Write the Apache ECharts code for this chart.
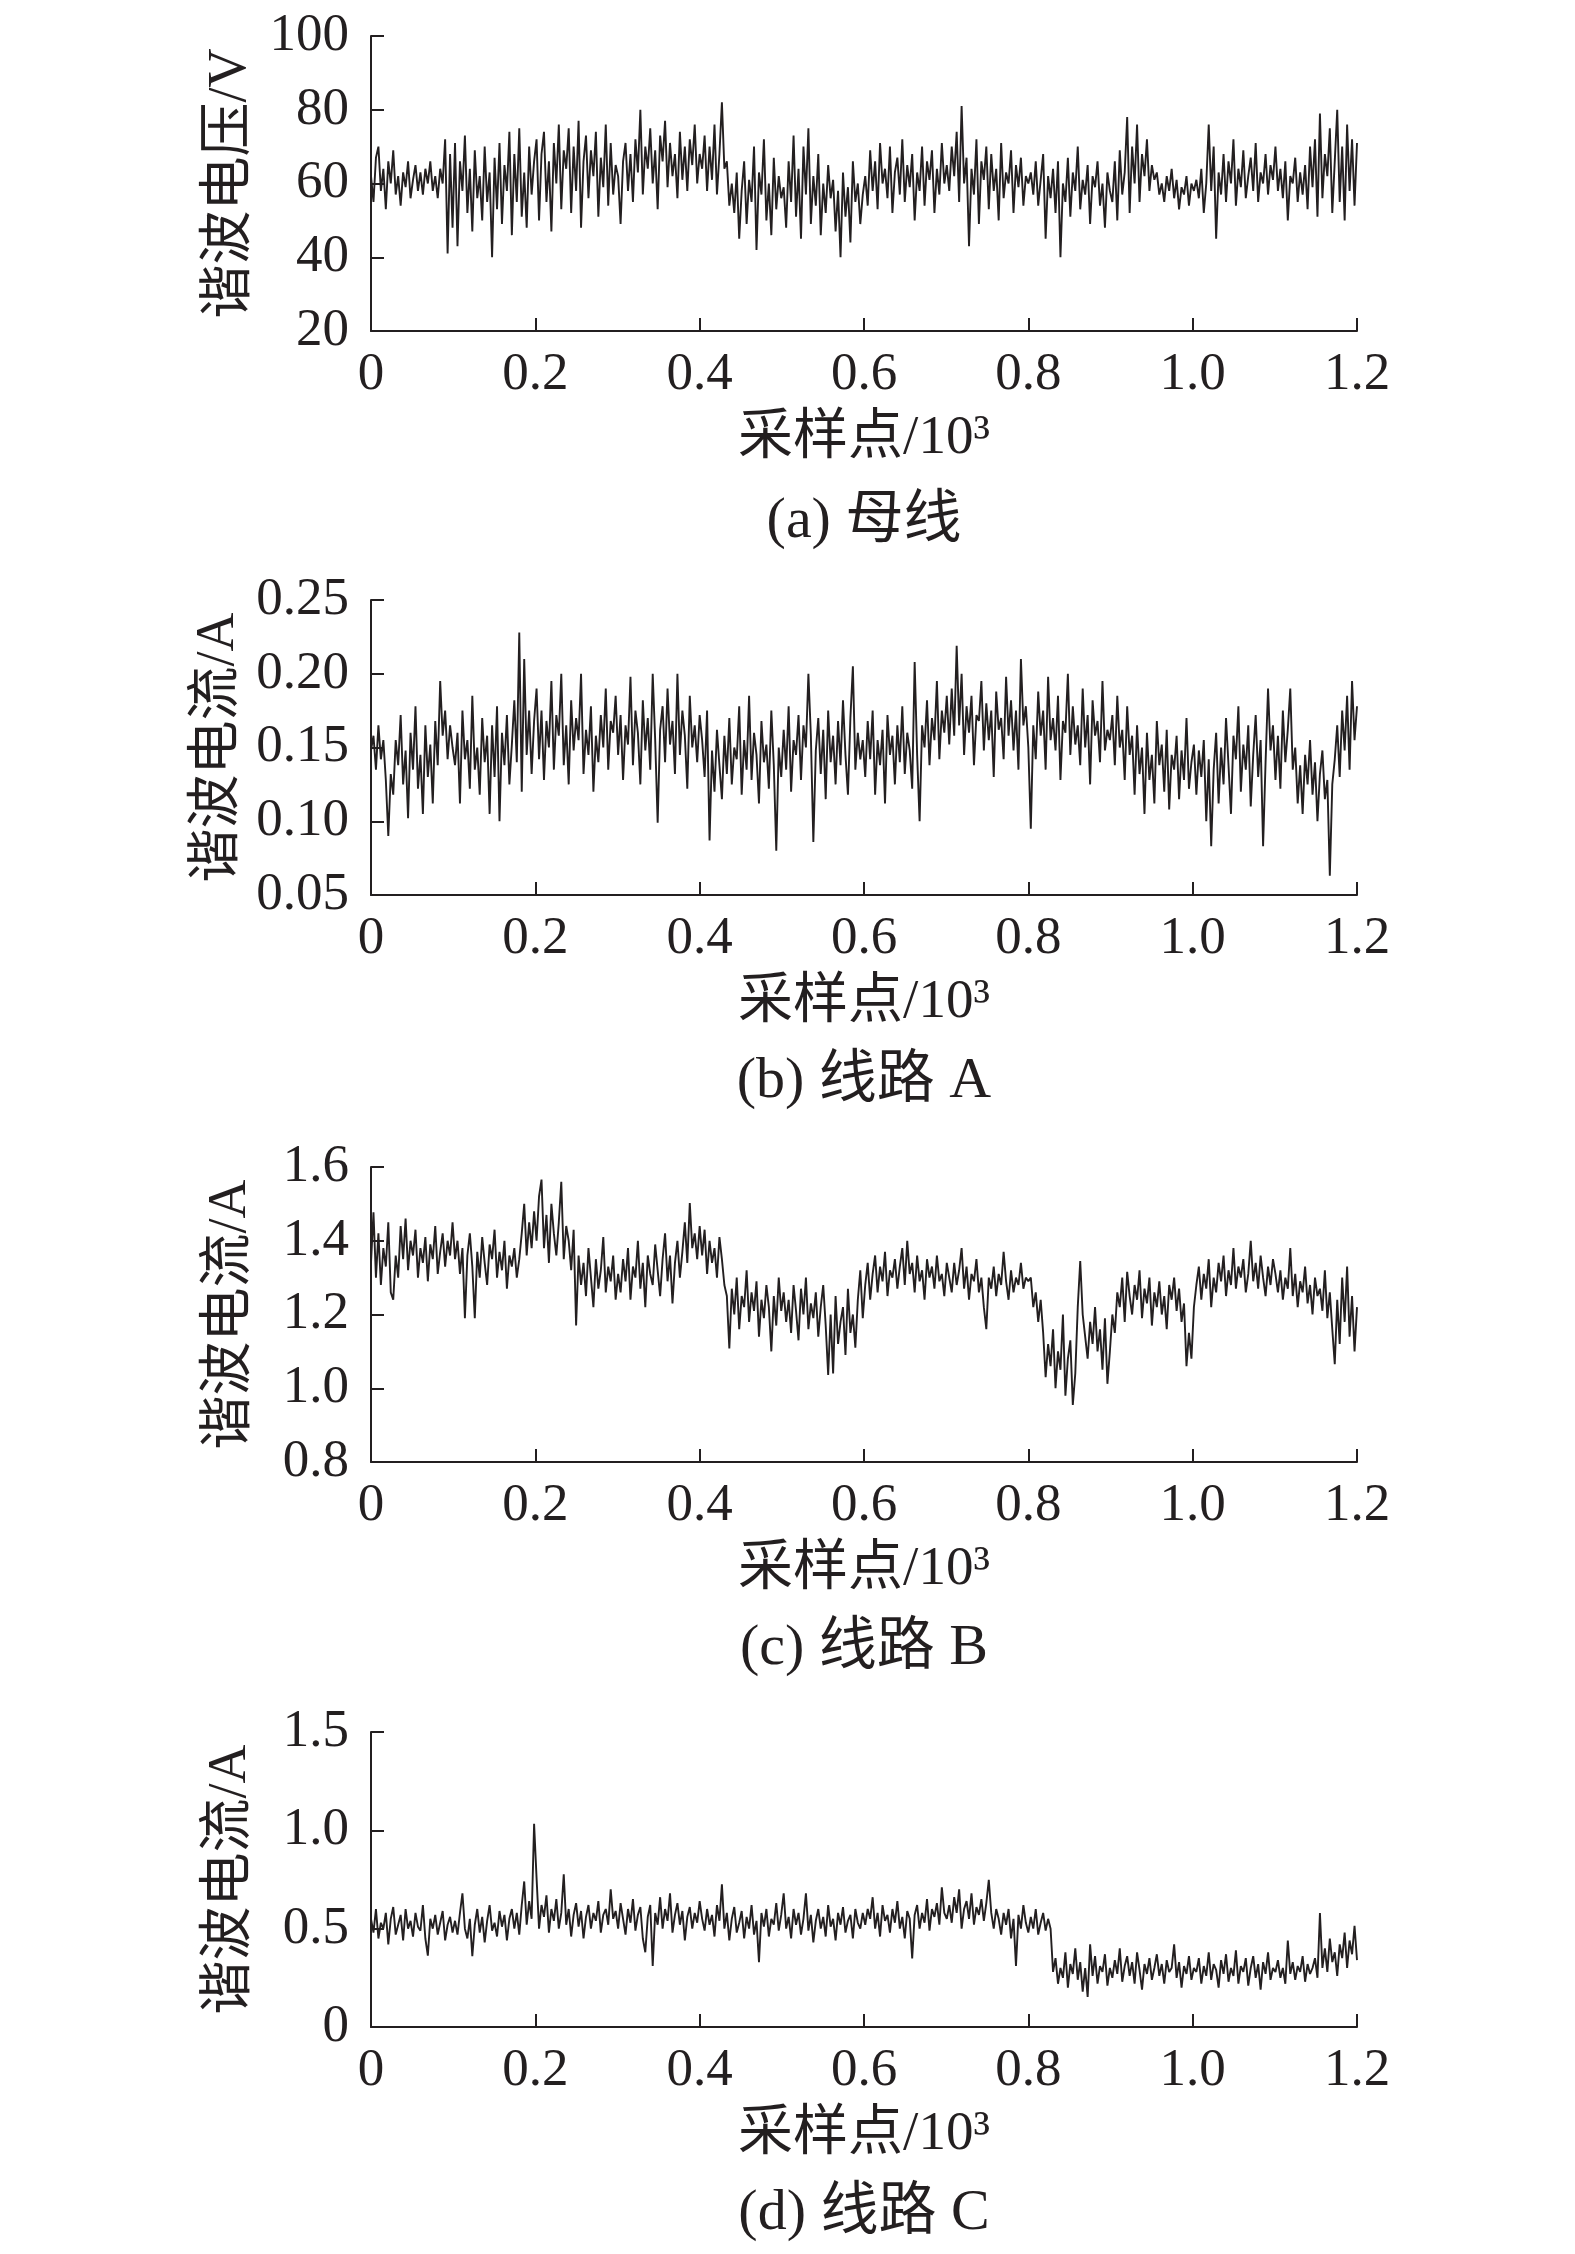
<!DOCTYPE html>
<html>
<head>
<meta charset="utf-8">
<script src="https://cdn.jsdelivr.net/npm/echarts@6/dist/echarts.min.js"></script>
<style>
html,body{margin:0;padding:0;background:#fff;}
#chart{width:1575px;height:2254px;}
</style>
</head>
<body>
<div id="chart"></div>
<script>
// x axis ticks (sampling points, 10^3)
const xTicks = [0, 0.2, 0.4, 0.6, 0.8, 1.0, 1.2];
const panelTitles = ['(a) 母线', '(b) 线路 A', '(c) 线路 B', '(d) 线路 C'];
const yNames = ['谐波电压/V', '谐波电流/A', '谐波电流/A', '谐波电流/A'];
const xName = '采样点/10³';

// (a) bus harmonic voltage, V
const busVoltage = [
62,55,67,70,58,64,53,66,60,69,57,62,54,63,59,66,56,61,65,58,63,57,64,60,66,58,62,56,64,60,72,41,68,48,
71,43,66,58,73,52,64,47,69,56,62,50,70,55,63,40,67,53,71,49,65,58,74,46,68,55,75,51,63,48,70,57,66,
72,50,68,74,55,66,47,71,60,76,53,69,64,75,52,70,58,77,48,66,73,56,69,62,74,51,67,59,76,54,71,57,65,
62,49,66,71,58,68,55,72,63,80,57,70,64,75,60,69,53,73,66,77,59,71,62,68,56,74,61,70,58,72,65,76,60,68,
64,73,58,70,61,76,57,68,82,64,66,54,60,52,63,45,58,66,49,61,55,70,42,63,57,72,50,60,46,67,53,62,56,
59,48,66,55,73,51,64,45,70,57,75,49,62,54,68,46,60,52,65,56,61,47,58,40,63,51,59,44,66,55,60,49,57,
62,54,69,58,66,53,71,60,64,56,70,52,63,67,57,72,55,65,59,68,50,63,58,70,54,66,61,69,52,64,57,71,60,65,
58,70,62,74,55,81,60,67,43,64,57,72,49,66,61,70,53,68,58,64,50,71,56,63,60,69,52,65,59,67,54,62,60,
63,57,66,54,61,68,45,62,56,64,52,66,40,60,55,67,51,63,58,70,53,61,57,65,49,62,59,66,54,60,48,63,58,
55,66,50,69,57,63,78,52,70,60,76,55,68,62,72,58,65,61,63,57,60,55,62,58,64,56,61,53,59,57,62,54,60,58,
61,56,64,52,60,76,58,70,45,63,57,68,55,66,60,72,54,64,59,69,56,62,67,58,71,55,63,60,68,57,65,61,70,
58,64,56,66,50,62,60,67,55,63,57,65,53,70,59,72,51,79,56,68,62,75,52,66,80,55,70,50,76,58,72,54,71
];

// (b) line A harmonic current, A
const lineACurrent = [
0.148,0.158,0.135,0.165,0.142,0.155,0.128,0.09,0.132,0.118,0.155,0.138,0.172,0.125,0.148,0.102,0.16,0.135,0.178,0.122,0.145,0.105,0.165,0.13,0.152,0.112,0.168,0.138,0.195,0.158,0.175,0.142,0.165,0.15,
0.138,0.16,0.112,0.175,0.142,0.155,0.122,0.185,0.135,0.15,0.118,0.17,0.14,0.158,0.105,0.165,0.13,0.178,0.1,0.16,0.138,0.172,0.125,0.152,0.182,0.14,0.228,0.12,0.21,0.145,0.175,0.132,0.168,
0.19,0.142,0.175,0.128,0.168,0.15,0.195,0.135,0.172,0.158,0.2,0.138,0.165,0.125,0.182,0.148,0.17,0.155,0.2,0.132,0.162,0.145,0.178,0.12,0.158,0.14,0.172,0.15,0.19,0.135,0.168,0.16,0.185,
0.145,0.172,0.128,0.165,0.152,0.198,0.138,0.175,0.16,0.125,0.182,0.148,0.17,0.135,0.2,0.155,0.099,0.162,0.178,0.14,0.19,0.152,0.168,0.132,0.2,0.145,0.175,0.158,0.122,0.185,0.15,0.165,0.14,0.172,
0.155,0.13,0.175,0.087,0.148,0.12,0.162,0.138,0.115,0.158,0.132,0.17,0.125,0.15,0.142,0.178,0.118,0.155,0.135,0.185,0.128,0.16,0.145,0.112,0.168,0.14,0.152,0.122,0.175,0.138,0.08,0.15,0.13,
0.162,0.135,0.178,0.12,0.155,0.145,0.172,0.128,0.165,0.15,0.2,0.158,0.086,0.148,0.17,0.132,0.162,0.115,0.175,0.14,0.158,0.125,0.168,0.138,0.182,0.145,0.118,0.17,0.205,0.135,0.16,0.142,0.155,
0.13,0.168,0.142,0.175,0.118,0.155,0.138,0.162,0.112,0.172,0.145,0.158,0.125,0.165,0.14,0.178,0.132,0.16,0.148,0.122,0.208,0.145,0.1,0.165,0.15,0.182,0.138,0.17,0.155,0.195,0.142,0.175,0.16,0.185,
0.152,0.19,0.158,0.219,0.165,0.2,0.145,0.178,0.16,0.185,0.138,0.172,0.168,0.195,0.148,0.18,0.155,0.175,0.13,0.188,0.162,0.17,0.142,0.198,0.158,0.182,0.148,0.175,0.135,0.21,0.165,0.178,0.15,
0.095,0.165,0.142,0.188,0.158,0.175,0.135,0.198,0.155,0.17,0.148,0.185,0.128,0.168,0.16,0.2,0.145,0.178,0.152,0.165,0.138,0.19,0.15,0.172,0.125,0.182,0.158,0.168,0.14,0.195,0.148,0.162,0.155,
0.172,0.138,0.185,0.15,0.162,0.128,0.178,0.145,0.158,0.118,0.165,0.132,0.15,0.105,0.16,0.128,0.145,0.112,0.168,0.138,0.152,0.12,0.162,0.108,0.145,0.135,0.158,0.115,0.148,0.128,0.17,0.122,0.14,0.152,
0.118,0.148,0.13,0.155,0.1,0.142,0.083,0.135,0.16,0.112,0.15,0.125,0.17,0.138,0.105,0.158,0.142,0.178,0.12,0.152,0.135,0.165,0.11,0.145,0.172,0.13,0.155,0.083,0.14,0.19,0.148,0.165,0.128,
0.158,0.122,0.175,0.14,0.162,0.19,0.135,0.15,0.112,0.138,0.105,0.145,0.125,0.155,0.118,0.14,0.1,0.132,0.148,0.115,0.128,0.063,0.125,0.142,0.165,0.13,0.175,0.148,0.185,0.135,0.195,0.155,0.178
];

// (c) line B harmonic current, A
const lineBCurrent = [
1.34,1.477,1.3,1.42,1.28,1.38,1.33,1.45,1.26,1.24,1.36,1.3,1.44,1.35,1.46,1.32,1.4,1.36,1.43,1.3,1.38,1.34,1.41,1.29,1.39,1.35,1.44,1.31,1.37,1.42,1.33,1.4,1.36,1.45,
1.35,1.4,1.31,1.38,1.19,1.36,1.42,1.33,1.19,1.37,1.3,1.41,1.34,1.28,1.39,1.35,1.43,1.3,1.37,1.32,1.4,1.27,1.36,1.33,1.38,1.3,1.35,1.42,1.5,1.36,1.45,1.38,1.48,
1.4,1.52,1.566,1.38,1.47,1.34,1.5,1.42,1.36,1.45,1.56,1.35,1.44,1.4,1.32,1.43,1.17,1.36,1.28,1.34,1.25,1.38,1.3,1.22,1.35,1.27,1.32,1.41,1.26,1.33,1.29,1.36,1.24,
1.31,1.26,1.35,1.29,1.38,1.24,1.33,1.3,1.4,1.27,1.34,1.22,1.36,1.31,1.28,1.39,1.32,1.25,1.35,1.42,1.29,1.36,1.23,1.34,1.4,1.3,1.37,1.45,1.34,1.502,1.38,1.42,1.35,1.44,
1.36,1.43,1.31,1.4,1.34,1.38,1.3,1.41,1.35,1.28,1.25,1.108,1.27,1.2,1.3,1.16,1.25,1.22,1.32,1.18,1.26,1.21,1.29,1.14,1.24,1.19,1.28,1.22,1.1,1.25,1.17,1.3,1.21,
1.26,1.18,1.24,1.15,1.28,1.21,1.13,1.27,1.2,1.3,1.16,1.23,1.19,1.26,1.14,1.22,1.28,1.17,1.036,1.2,1.04,1.25,1.12,1.18,1.22,1.09,1.27,1.15,1.2,1.11,1.24,1.32,1.19,
1.28,1.34,1.24,1.31,1.36,1.26,1.33,1.29,1.37,1.25,1.32,1.3,1.35,1.27,1.33,1.38,1.28,1.4,1.31,1.34,1.26,1.36,1.29,1.32,1.24,1.35,1.3,1.33,1.27,1.36,1.29,1.31,1.25,1.34,
1.3,1.26,1.34,1.28,1.32,1.38,1.27,1.33,1.24,1.31,1.29,1.35,1.26,1.3,1.22,1.16,1.3,1.27,1.33,1.25,1.31,1.28,1.37,1.29,1.24,1.32,1.26,1.3,1.28,1.34,1.27,1.3,1.29,
1.3,1.22,1.26,1.18,1.24,1.15,1.03,1.12,1.06,1.16,1.0,1.1,1.05,1.2,0.98,1.08,1.13,0.955,1.04,1.22,1.345,1.2,1.14,1.08,1.18,1.12,1.22,1.1,1.16,1.05,1.19,1.012,1.1,
1.2,1.15,1.26,1.22,1.3,1.18,1.316,1.25,1.2,1.28,1.24,1.32,1.19,1.27,1.23,1.3,1.17,1.26,1.22,1.29,1.2,1.25,1.16,1.28,1.24,1.3,1.21,1.27,1.18,1.23,1.06,1.15,1.08,1.22,
1.28,1.33,1.24,1.31,1.27,1.35,1.22,1.3,1.26,1.34,1.29,1.36,1.25,1.32,1.28,1.38,1.27,1.33,1.3,1.35,1.26,1.31,1.4,1.29,1.34,1.27,1.36,1.3,1.25,1.33,1.28,1.35,1.31,
1.26,1.32,1.24,1.3,1.27,1.38,1.25,1.31,1.22,1.29,1.26,1.33,1.23,1.28,1.2,1.3,1.25,1.27,1.21,1.32,1.19,1.26,1.16,1.065,1.24,1.12,1.3,1.18,1.33,1.14,1.25,1.1,1.22
];

// (d) line C harmonic current, A
const lineCCurrent = [
0.55,0.48,0.6,0.45,0.53,0.5,0.58,0.42,0.55,0.61,0.47,0.52,0.57,0.44,0.6,0.5,0.54,0.46,0.58,0.51,0.49,0.62,0.45,0.363,0.55,0.5,0.57,0.47,0.53,0.59,0.44,0.52,0.56,0.48,
0.54,0.47,0.58,0.68,0.5,0.45,0.55,0.36,0.52,0.6,0.48,0.56,0.43,0.54,0.62,0.49,0.53,0.46,0.59,0.51,0.57,0.44,0.55,0.6,0.5,0.58,0.47,0.62,0.74,0.52,0.64,0.55,1.033,
0.757,0.5,0.62,0.56,0.67,0.48,0.6,0.54,0.65,0.5,0.58,0.776,0.52,0.6,0.46,0.57,0.63,0.51,0.59,0.45,0.56,0.62,0.5,0.58,0.54,0.64,0.48,0.57,0.6,0.52,0.7,0.55,0.59,
0.5,0.63,0.55,0.47,0.6,0.53,0.65,0.49,0.57,0.61,0.45,0.38,0.56,0.62,0.31,0.58,0.52,0.66,0.5,0.6,0.54,0.68,0.48,0.57,0.63,0.52,0.59,0.44,0.56,0.61,0.5,0.58,0.53,0.64,
0.55,0.49,0.6,0.52,0.57,0.46,0.62,0.54,0.725,0.5,0.58,0.44,0.55,0.61,0.48,0.53,0.59,0.45,0.56,0.5,0.62,0.47,0.54,0.33,0.58,0.51,0.6,0.46,0.55,0.52,0.63,0.49,0.57,
0.68,0.5,0.56,0.45,0.6,0.52,0.58,0.47,0.55,0.68,0.49,0.57,0.43,0.54,0.6,0.5,0.56,0.46,0.62,0.51,0.55,0.44,0.58,0.52,0.61,0.48,0.54,0.57,0.45,0.6,0.53,0.5,0.58,
0.52,0.6,0.55,0.66,0.5,0.58,0.46,0.62,0.54,0.57,0.48,0.6,0.53,0.64,0.5,0.56,0.45,0.59,0.55,0.348,0.57,0.62,0.5,0.58,0.53,0.65,0.49,0.6,0.56,0.63,0.52,0.71,0.58,0.55,
0.62,0.53,0.66,0.58,0.7,0.5,0.6,0.64,0.55,0.68,0.52,0.61,0.57,0.65,0.54,0.63,0.748,0.58,0.5,0.6,0.55,0.47,0.58,0.52,0.6,0.45,0.55,0.31,0.57,0.5,0.62,0.53,0.48,
0.56,0.5,0.6,0.47,0.53,0.58,0.49,0.55,0.5,0.28,0.35,0.22,0.3,0.25,0.38,0.2,0.32,0.27,0.4,0.24,0.33,0.18,0.3,0.153,0.42,0.26,0.36,0.22,0.31,0.28,0.37,0.21,0.3,
0.25,0.34,0.27,0.4,0.23,0.31,0.36,0.26,0.33,0.22,0.38,0.29,0.19,0.32,0.27,0.35,0.24,0.3,0.37,0.26,0.32,0.22,0.34,0.28,0.3,0.42,0.25,0.33,0.2,0.31,0.27,0.36,0.24,0.3,
0.28,0.35,0.22,0.31,0.26,0.38,0.24,0.32,0.29,0.2,0.34,0.27,0.37,0.23,0.3,0.26,0.39,0.22,0.31,0.28,0.35,0.21,0.3,0.36,0.25,0.32,0.19,0.33,0.27,0.38,0.24,0.3,0.28,
0.34,0.25,0.3,0.22,0.44,0.27,0.33,0.24,0.31,0.28,0.36,0.23,0.32,0.27,0.3,0.35,0.25,0.58,0.3,0.4,0.28,0.45,0.33,0.38,0.26,0.42,0.35,0.48,0.3,0.44,0.37,0.515,0.34
];

const yRanges = [
  {min: 20, max: 100, interval: 20, digits: 0},
  {min: 0.05, max: 0.25, interval: 0.05, digits: 2},
  {min: 0.8, max: 1.6, interval: 0.2, digits: 1},
  {min: 0, max: 1.5, interval: 0.5, digits: 1}
];
const seriesValues = [busVoltage, lineACurrent, lineBCurrent, lineCCurrent];

const INK = '#231f20';
const FONT = '"Liberation Serif", "Times New Roman", "Noto Sans CJK SC", serif';
const gridTops = [36, 600, 1167, 1732];
const gridCenters = [522, 1082, 1649, 2214];
const gridLeft = 371, gridWidth = 986, gridHeight = 295;

function toPoints(vals) {
  const n = vals.length;
  return vals.map((v, i) => [i * 1.2 / (n - 1), v]);
}

const option = {
  animation: false,
  backgroundColor: '#fff',
  textStyle: {fontFamily: FONT, color: INK},
  grid: gridTops.map(t => ({left: gridLeft, top: t, width: gridWidth, height: gridHeight, containLabel: false})),
  xAxis: gridTops.map((t, k) => ({
    type: 'value', gridIndex: k, min: 0, max: 1.2, interval: 0.2,
    name: xName, nameLocation: 'middle', nameGap: 80,
    nameTextStyle: {fontSize: 55, fontFamily: FONT, color: INK},
    axisLine: {show: true, lineStyle: {color: INK, width: 2}},
    axisTick: {show: true, inside: true, length: 13, lineStyle: {color: INK, width: 2}},
    axisLabel: {fontSize: 53, fontFamily: FONT, color: INK, margin: 18,
      formatter: v => (Math.abs(v) < 1e-9 ? '0' : v.toFixed(1))},
    splitLine: {show: false}
  })),
  yAxis: yRanges.map((r, k) => ({
    type: 'value', gridIndex: k, min: r.min, max: r.max, interval: r.interval,
    name: yNames[k], nameLocation: 'middle', nameRotate: 90, nameGap: 113,
    nameTextStyle: {fontSize: 54, fontFamily: FONT, color: INK},
    axisLine: {show: true, lineStyle: {color: INK, width: 2}},
    axisTick: {show: true, inside: true, length: 13, lineStyle: {color: INK, width: 2}},
    axisLabel: {fontSize: 53, fontFamily: FONT, color: INK, margin: 22,
      formatter: v => (Math.abs(v) < 1e-9 ? '0' : v.toFixed(r.digits))},
    splitLine: {show: false}
  })),
  series: seriesValues.map((vals, k) => ({
    type: 'line', xAxisIndex: k, yAxisIndex: k, data: toPoints(vals),
    showSymbol: false, symbol: 'none', smooth: false,
    lineStyle: {color: INK, width: 1.9}, z: 1
  })),
  graphic: panelTitles.map((t, k) => ({
    type: 'text', x: gridLeft + gridWidth / 2, y: gridCenters[k],
    style: {text: t, fontSize: 58, fontFamily: FONT, fill: INK, align: 'center', verticalAlign: 'middle'}
  }))
};

const chart = echarts.init(document.getElementById('chart'), null, {renderer: 'canvas'});
chart.setOption(option);
</script>
</body>
</html>
